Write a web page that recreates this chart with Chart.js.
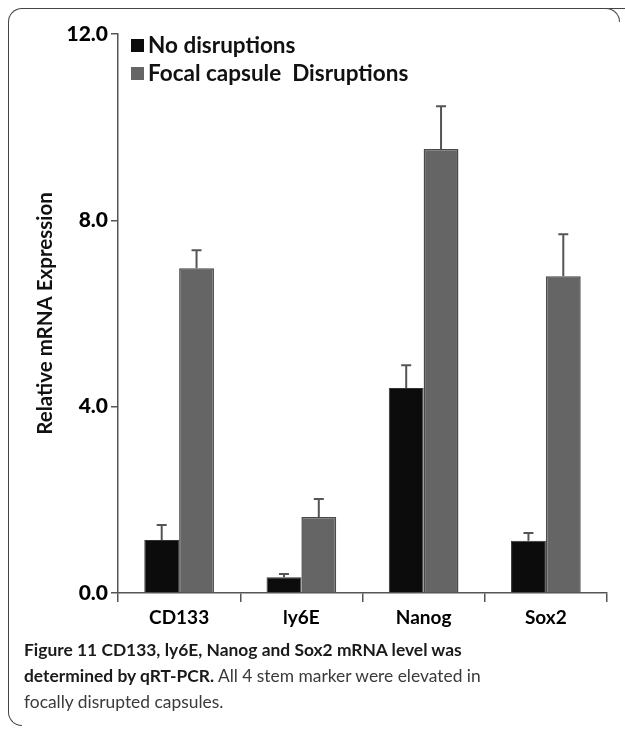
<!DOCTYPE html>
<html>
<head>
<meta charset="utf-8">
<script src="https://cdn.jsdelivr.net/npm/chart.js@4"></script>
<style>
  body { margin: 0; background: #fff; width: 625px; height: 730px; position: relative; overflow: hidden; }
  #frame { position: absolute; left: 8px; top: 8px; width: 640px; height: 40px;
           border-left: 1.5px solid #444; border-top: 1.5px solid #444;
           border-radius: 14px 0 0 0; box-sizing: border-box; }
  #side { position: absolute; left: 8px; top: 40px; width: 14px; height: 686px;
          border-left: 1.5px solid #444; border-bottom: 1.5px solid #444;
          border-radius: 0 0 0 14px; box-sizing: border-box; }
  #corner { position: absolute; left: 606px; top: 8px; width: 14px; height: 14px;
            border-top: 1.5px solid #444; border-right: 1.5px solid #444; border-radius: 0 14px 0 0; background: #fff; box-sizing: border-box; }
  #wrap { position: absolute; left: 0; top: 0; width: 625px; height: 640px; }
  #legend { position: absolute; left: 131px; top: 32px; font-family: Lato, sans-serif; font-weight: bold; font-size: 22.5px; color: #111; }
  #legend div { height: 28px; line-height: 26px; white-space: pre; }
  #legend span.box { display: inline-block; width: 13px; height: 13px; margin-right: 4px; vertical-align: 1px; }
  #caption { position: absolute; left: 24px; top: 637px; font-family: Lato, sans-serif; font-size: 17.4px; line-height: 26px; color: #3a3a3a; width: 595px; }
  #caption b { color: #1a1a1a; }
</style>
</head>
<body>
<div id="frame"></div>
<div id="side"></div>
<div id="corner"></div>
<div id="wrap"><canvas id="chart" width="625" height="640"></canvas></div>
<div id="legend"></div>
<div id="caption"><b>Figure 11 CD133, ly6E, Nanog and Sox2 mRNA level was<br>determined by qRT-PCR.</b> All 4 stem marker were elevated in<br>focally disrupted capsules.</div>
<script>
// Datos del gráfico
const categories = ['CD133', 'ly6E', 'Nanog', 'Sox2'];
const seriesNames = ['No disruptions', 'Focal capsule  Disruptions'];
const noDisruptions = [1.14, 0.34, 4.40, 1.12];
const noDisruptionsErr = [0.32, 0.07, 0.49, 0.17];
const focalDisruptions = [6.97, 1.63, 9.53, 6.80];
const focalDisruptionsErr = [0.39, 0.39, 0.92, 0.90];
const yTicks = [0, 4, 8, 12];

const fillColors = ['#0c0c0c', '#656565'];
const edgeColors = ['#333333', '#4a4a4a'];
const errors = [noDisruptionsErr, focalDisruptionsErr];

// Leyenda en HTML
const legend = document.getElementById('legend');
seriesNames.forEach((name, i) => {
  const row = document.createElement('div');
  row.innerHTML = `<span class="box" style="background:${fillColors[i]}"></span>${name}`;
  legend.appendChild(row);
});

// Barras de error (solo hacia arriba)
const errorBars = {
  id: 'errorBars',
  afterDatasetsDraw(chart) {
    const ctx = chart.ctx;
    const y = chart.scales.y;
    chart.data.datasets.forEach((ds, i) => {
      const meta = chart.getDatasetMeta(i);
      meta.data.forEach((bar, j) => {
        const top = y.getPixelForValue(ds.data[j] + errors[i][j]);
        ctx.save();
        ctx.strokeStyle = '#555';
        ctx.lineWidth = 2;
        ctx.beginPath();
        ctx.moveTo(bar.x, bar.y);
        ctx.lineTo(bar.x, top);
        ctx.moveTo(bar.x - 5, top);
        ctx.lineTo(bar.x + 5, top);
        ctx.stroke();
        ctx.restore();
      });
    });
  }
};

const ctx = document.getElementById('chart').getContext('2d');
new Chart(ctx, {
  type: 'bar',
  data: {
    labels: categories,
    datasets: [
      { label: seriesNames[0], data: noDisruptions, backgroundColor: fillColors[0], borderColor: edgeColors[0], borderWidth: 1 },
      { label: seriesNames[1], data: focalDisruptions, backgroundColor: fillColors[1], borderColor: edgeColors[1], borderWidth: 1.5 }
    ]
  },
  options: {
    responsive: false,
    animation: false,
    datasets: { bar: { categoryPercentage: 0.57, barPercentage: 1.0 } },
    layout: { padding: { left: 0, top: 34, right: 18, bottom: 0 } },
    plugins: { legend: { display: false }, tooltip: { enabled: false } },
    scales: {
      x: {
        grid: { offset: true, drawOnChartArea: false, drawTicks: true, tickLength: 9, color: '#555', lineWidth: 1.5 },
        border: { color: '#555', width: 1.5 },
        ticks: { color: '#000', padding: 4, font: { family: 'Lato', weight: 'bold', size: 19 } },
        afterFit(scale) { scale.height = 47; }
      },
      y: {
        min: 0,
        max: 12,
        afterBuildTicks(scale) { scale.ticks = yTicks.map(v => ({ value: v })); },
        grid: { drawOnChartArea: false, drawTicks: true, tickLength: 7, color: '#555', lineWidth: 1.5 },
        border: { color: '#555', width: 1.5 },
        ticks: { color: '#000', padding: 3, font: { family: 'Lato', weight: 900, size: 21 }, callback: v => v.toFixed(1) },
        title: { display: true, text: 'Relative mRNA Expression', color: '#111', padding: { top: 33, bottom: 0 },
                 font: { family: 'Lato', weight: 'bold', size: 20.5 } },
        afterFit(scale) { scale.width = 118; }
      }
    }
  },
  plugins: [errorBars]
});
</script>
</body>
</html>
